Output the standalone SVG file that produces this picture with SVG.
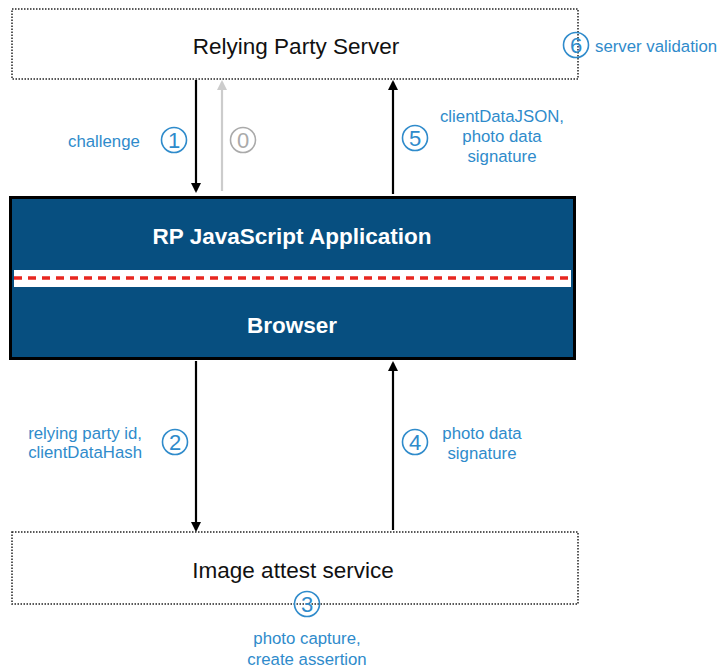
<svg xmlns="http://www.w3.org/2000/svg" width="722" height="668" viewBox="0 0 722 668">
<style>
.box{fill:#fff;stroke:#222;stroke-width:1.5;stroke-dasharray:1.5 1.5}
.title{font-family:"Liberation Sans",Arial,sans-serif;font-size:22.5px;fill:#111;text-anchor:middle}
.wt{font-family:"Liberation Sans",Arial,sans-serif;font-size:22.5px;font-weight:bold;fill:#fff;text-anchor:middle}
.lbl{font-family:"Liberation Sans",Arial,sans-serif;font-size:16.8px;fill:#2f8bcb}
.num{font-family:"Liberation Sans",Arial,sans-serif;font-size:22px;fill:#2f8bcb;text-anchor:middle}
.ring{fill:none;stroke:#2f8bcb;stroke-width:1.6}
.arr{stroke:#000;stroke-width:2.2;fill:none}
</style>
<defs>
<marker id="ah" markerWidth="10" markerHeight="10" refX="8" refY="5" orient="auto" markerUnits="userSpaceOnUse"><path d="M0,0 L10,5 L0,10 z" fill="#000"/></marker>
<marker id="ahg" markerWidth="10" markerHeight="10" refX="8" refY="5" orient="auto" markerUnits="userSpaceOnUse"><path d="M0,0 L10,5 L0,10 z" fill="#ccc"/></marker>
</defs>
<rect width="722" height="668" fill="#fff"/>
<g id="rp-server">
<rect class="box" x="12" y="9" width="566" height="70"/>
<text class="title" x="296" y="54">Relying Party Server</text>
</g>
<g id="browser">
<rect x="10.5" y="197.5" width="564" height="161" fill="#074f80" stroke="#000" stroke-width="3"/>
<rect x="14" y="270" width="557" height="17" fill="#fff"/>
<line x1="14" y1="278" x2="571" y2="278" stroke="#e8261f" stroke-width="3.5" stroke-dasharray="8 6"/>
<text class="wt" x="292" y="244">RP JavaScript Application</text>
<text class="wt" x="292" y="333">Browser</text>
</g>
<g id="attest">
<rect class="box" x="12" y="532" width="566" height="72"/>
<text class="title" x="293" y="578">Image attest service</text>
</g>
<g id="connectors">
<line class="arr" x1="196" y1="80" x2="196" y2="191" marker-end="url(#ah)"/>
<line x1="222" y1="191" x2="222" y2="82" stroke="#ccc" stroke-width="2.2" marker-end="url(#ahg)"/>
<line class="arr" x1="393" y1="194" x2="393" y2="82" marker-end="url(#ah)"/>
<line class="arr" x1="196" y1="361" x2="196" y2="530" marker-end="url(#ah)"/>
<line class="arr" x1="393" y1="530" x2="393" y2="363" marker-end="url(#ah)"/>
</g>
<g id="labels">
<text class="lbl" x="68" y="147">challenge</text>
<circle class="ring" cx="174" cy="140" r="12.5"/><text class="num" x="174" y="148">1</text>
<circle cx="243" cy="140" r="12.5" fill="none" stroke="#aaa" stroke-width="1.6"/><text x="243" y="148" font-family="Liberation Sans,Arial,sans-serif" font-size="22" fill="#aaa" text-anchor="middle">0</text>
<circle class="ring" cx="415" cy="138" r="12.5"/><text class="num" x="415" y="146">5</text>
<text class="lbl" text-anchor="middle" x="502" y="122">clientDataJSON,</text>
<text class="lbl" text-anchor="middle" x="502" y="142">photo data</text>
<text class="lbl" text-anchor="middle" x="502" y="162">signature</text>
<circle class="ring" cx="576" cy="45" r="12.5"/><text class="num" x="576" y="53">6</text>
<text class="lbl" x="595" y="52">server validation</text>
<text class="lbl" text-anchor="end" x="142" y="439">relying party id,</text>
<text class="lbl" text-anchor="end" x="142" y="458">clientDataHash</text>
<circle class="ring" cx="175" cy="442" r="12.5"/><text class="num" x="175" y="450">2</text>
<circle class="ring" cx="415" cy="442" r="12.5"/><text class="num" x="415" y="450">4</text>
<text class="lbl" text-anchor="middle" x="482" y="439">photo data</text>
<text class="lbl" text-anchor="middle" x="482" y="459">signature</text>
<circle class="ring" cx="307" cy="604" r="12.5"/><text class="num" x="307" y="612">3</text>
<text class="lbl" text-anchor="middle" x="307" y="644">photo capture,</text>
<text class="lbl" text-anchor="middle" x="307" y="665">create assertion</text>
</g>
</svg>
